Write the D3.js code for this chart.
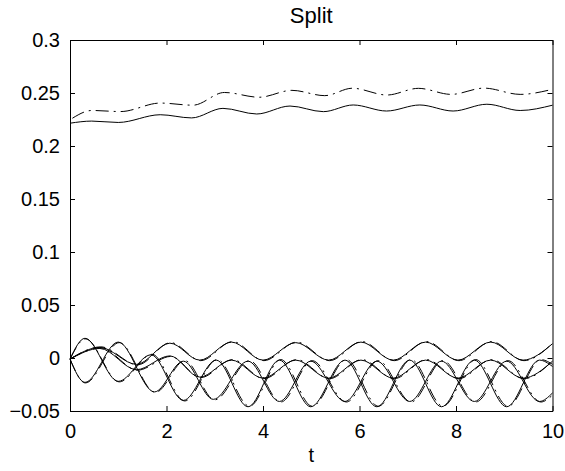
<!DOCTYPE html>
<html>
<head>
<meta charset="utf-8">
<script src="https://cdn.jsdelivr.net/npm/d3@7"></script>
<style>
  body { margin: 0; background: #fff; }
  svg { display: block; }
  text { font-family: "Liberation Sans", Arial, Helvetica, sans-serif; fill: #000; }
</style>
</head>
<body>
<svg id="chart" width="565" height="471"></svg>
<script>
// values (t at local max/min, value there)
const xTicks = [0, 2, 4, 6, 8, 10]
const yTicks = [-0.05, 0, 0.05, 0.1, 0.15, 0.2, 0.25, 0.3]
const yTickLabels = ["\u22120.05", "0", "0.05", "0.1", "0.15", "0.2", "0.25", "0.3"]

// upper pair
const topSolidT = [0, 0.45, 1.0, 1.87, 2.52, 3.17, 3.87, 4.56, 5.25, 5.87, 6.56, 7.25, 7.94, 8.64, 9.33, 10]
const topSolidY = [0.2215, 0.2235, 0.2222, 0.2295, 0.2265, 0.2355, 0.2302, 0.2377, 0.2324, 0.2387, 0.2330, 0.2387, 0.2330, 0.2394, 0.2335, 0.2385]
const topDashT = [0.05, 0.45, 1.05, 1.87, 2.55, 3.2, 3.92, 4.6, 5.28, 5.85, 6.57, 7.22, 7.9, 8.58, 9.33, 10]
const topDashY = [0.2262, 0.2335, 0.2325, 0.2405, 0.2385, 0.2505, 0.2460, 0.2525, 0.2475, 0.2545, 0.2481, 0.2544, 0.2487, 0.2546, 0.2487, 0.2535]

// lower group, solid
const aT = [0, 0.62, 1.38, 2.07, 2.69, 3.35, 4.0, 4.68, 5.36, 6.03, 6.70, 7.37, 8.04, 8.72, 9.39, 10]
const aY = [-0.001, 0.010, -0.006, 0.014, -0.002, 0.015, -0.002, 0.0145, -0.002, 0.015, -0.002, 0.015, -0.002, 0.015, -0.002, 0.0135]
const bT = [0, 0.62, 1.38, 2.07, 2.69, 3.35, 4.0, 4.68, 5.36, 6.03, 6.70, 7.37, 8.04, 8.72, 9.39, 10]
const bY = [-0.001, 0.009, -0.011, 0.002, -0.018, -0.002, -0.019, -0.002, -0.019, -0.002, -0.019, -0.002, -0.019, -0.002, -0.019, -0.003]
const cT = [0, 0.31, 1.0, 1.68, 2.35, 3.03, 3.69, 4.34, 4.99, 5.70, 6.36, 7.04, 7.70, 8.38, 9.05, 9.73, 10]
const cY = [-0.001, 0.0186, -0.022, 0.003, -0.040, -0.002, -0.046, -0.002, -0.046, -0.002, -0.046, -0.002, -0.046, -0.002, -0.046, -0.002, -0.008]
const dT = [0, 0.31, 1.0, 1.75, 2.35, 2.97, 3.69, 4.34, 4.99, 5.70, 6.36, 7.04, 7.70, 8.38, 9.05, 9.73, 10]
const dY = [-0.001, -0.023, 0.015, -0.032, -0.003, -0.039, -0.003, -0.041, -0.003, -0.041, -0.003, -0.041, -0.003, -0.041, -0.003, -0.041, -0.033]

// lower group, dash-dot companions
const a2T = [0, 0.64, 1.40, 2.09, 2.71, 3.37, 4.02, 4.70, 5.38, 6.05, 6.72, 7.39, 8.06, 8.74, 9.41, 10]
const a2Y = [-0.001, 0.0105, -0.0065, 0.0145, -0.0025, 0.0155, -0.0025, 0.015, -0.0025, 0.0155, -0.0025, 0.0155, -0.0025, 0.0155, -0.0025, 0.0138]
const b2T = [0, 0.64, 1.40, 2.09, 2.71, 3.37, 4.02, 4.70, 5.38, 6.05, 6.72, 7.39, 8.06, 8.74, 9.41, 10]
const b2Y = [-0.001, 0.0095, -0.0115, 0.0015, -0.0185, -0.0015, -0.0195, -0.0015, -0.0195, -0.0015, -0.0195, -0.0015, -0.0195, -0.0015, -0.0195, -0.0028]
const c2T = [0, 0.32, 1.02, 1.70, 2.38, 3.05, 3.72, 4.37, 5.02, 5.73, 6.39, 7.07, 7.73, 8.41, 9.08, 9.76, 10]
const c2Y = [-0.001, 0.0180, -0.0225, 0.0035, -0.0405, -0.0015, -0.0455, -0.0015, -0.0455, -0.0015, -0.0455, -0.0015, -0.0455, -0.0015, -0.0455, -0.0015, -0.006]
const d2T = [0, 0.32, 1.02, 1.77, 2.38, 3.0, 3.72, 4.37, 5.02, 5.73, 6.39, 7.07, 7.73, 8.41, 9.08, 9.76, 10]
const d2Y = [-0.001, -0.0235, 0.0145, -0.0325, -0.0025, -0.0395, -0.0025, -0.0415, -0.0025, -0.0415, -0.0025, -0.0415, -0.0025, -0.0415, -0.0025, -0.0415, -0.035]

const svg = d3.select("#chart")
const padL = 70, padR = 552.5, padT = 40, padB = 411

const x = d3.scaleLinear().domain([0, 10]).range([padL, padR])
const y = d3.scaleLinear().domain([-0.05, 0.3]).range([padB, padT])

const line = d3.line()
  .x(d => x(d[0]))
  .y(d => y(d[1]))
  .curve(d3.curveMonotoneX)

const zip = (ts, vs) => ts.map((t, i) => [t, vs[i]])

const plot = svg.append("g").attr("fill", "none").attr("stroke", "#000").attr("stroke-width", 1)

const solids = [[topSolidT, topSolidY], [aT, aY], [bT, bY], [cT, cY], [dT, dY]]
const dashes = [[topDashT, topDashY], [a2T, a2Y], [b2T, b2Y], [c2T, c2Y], [d2T, d2Y]]

solids.forEach(s => plot.append("path").attr("d", line(zip(s[0], s[1]))))
dashes.forEach(s => plot.append("path").attr("d", line(zip(s[0], s[1])))
  .attr("stroke-dasharray", "13,5,2,5"))

// axes, ticks pointing inward, box all round
const fontSize = 20
const ax = svg.append("g").attr("font-size", fontSize)

ax.append("g").attr("transform", `translate(0,${padB})`)
  .call(d3.axisBottom(x).tickValues(xTicks).tickSizeInner(-5).tickSizeOuter(0).tickPadding(13))
ax.append("g").attr("transform", `translate(${padL},0)`)
  .call(d3.axisLeft(y).tickValues(yTicks).tickFormat((d, i) => yTickLabels[i]).tickSizeInner(-5).tickSizeOuter(0).tickPadding(10))
ax.append("g").attr("transform", `translate(0,${padT})`)
  .call(d3.axisTop(x).tickValues(xTicks).tickSizeInner(-5).tickSizeOuter(0).tickFormat(""))
ax.append("g").attr("transform", `translate(${padR},0)`)
  .call(d3.axisRight(y).tickValues(yTicks).tickSizeInner(-5).tickSizeOuter(0).tickFormat(""))

ax.selectAll("g").attr("font-family", null).attr("font-size", null)
ax.selectAll("text").attr("fill", "#000")
ax.selectAll("path, line").attr("stroke", "#000").attr("stroke-width", 1)

svg.append("text").attr("x", (padL + padR) / 2).attr("y", 23)
  .attr("text-anchor", "middle").attr("font-size", 22).text("Split")
svg.append("text").attr("x", (padL + padR) / 2).attr("y", 462)
  .attr("text-anchor", "middle").attr("font-size", fontSize).text("t")
</script>
</body>
</html>
